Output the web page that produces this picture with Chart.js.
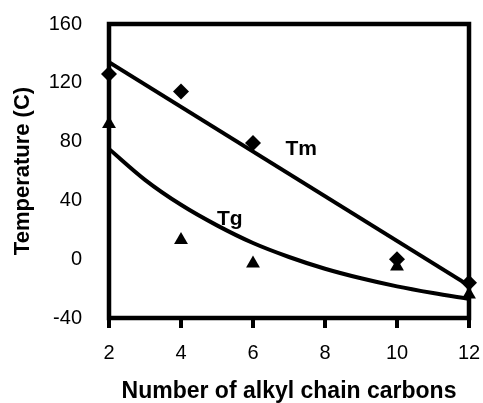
<!DOCTYPE html>
<html>
<head>
<meta charset="utf-8">
<script src="https://cdn.jsdelivr.net/npm/chart.js@4"></script>
<style>
  html, body { margin: 0; padding: 0; background: #fff; }
  #wrap { width: 483px; height: 403px; }
</style>
</head>
<body>
<div id="wrap"><canvas id="chart"></canvas></div>
<script>
// Tm / Tg vs alkyl chain length — measured points plus fitted trend curves.
const carbons = [2, 4, 6, 10, 12];
const tmValues = [126, 114, 79, 0, -16];
const tgValues = [92, 13, -3, -5, -24];

// fitted curves as drawn in the source figure
const tmFitX = [2, 12];
const tmFitY = [134, -18];
const tgFitX = [2, 3, 4, 5, 6, 7, 8, 9, 10, 11, 12];
const tgFitY = [75, 54, 37, 23, 11, 1.5, -6.5, -13, -18.5, -23, -27];

const xTicks = [2, 4, 6, 8, 10, 12];
const yTicks = [-40, 0, 40, 80, 120, 160];

const pts = (xs, ys) => xs.map((x, i) => ({ x, y: ys[i] }));
const ink = '#000';
const sans = 'Arial, "Liberation Sans", sans-serif';

// thick box round the plot area (under the markers) plus the curve labels
const framePlugin = {
  id: 'frame',
  beforeDatasetsDraw(chart) {
    const { ctx, chartArea: a, scales: { x, y } } = chart;
    ctx.save();
    ctx.strokeStyle = ink;
    ctx.lineWidth = 4.5;
    ctx.strokeRect(a.left, a.top, a.right - a.left, a.bottom - a.top);
    ctx.fillStyle = ink;
    ctx.font = 'bold 21px ' + sans;
    ctx.textBaseline = 'alphabetic';
    ctx.fillText('Tm', x.getPixelForValue(6.9), y.getPixelForValue(71));
    ctx.fillText('Tg', x.getPixelForValue(5.0), y.getPixelForValue(23.5));
    ctx.restore();
  },
  afterDraw(chart) {
    // short outward tick marks under the x axis
    const { ctx, chartArea: a, scales: { x } } = chart;
    ctx.save();
    ctx.fillStyle = ink;
    xTicks.forEach(v => {
      const px = x.getPixelForValue(v);
      ctx.fillRect(px - 2, a.bottom, 4, 10);
    });
    ctx.restore();
  },
};

new Chart(document.getElementById('chart'), {
  type: 'scatter',
  data: {
    datasets: [
      {
        label: 'Tm',
        data: pts(carbons, tmValues),
        pointStyle: 'rectRot',
        pointRadius: 8,
        backgroundColor: ink,
        borderColor: ink,
        borderWidth: 0,
        clip: false,
        order: 0,
      },
      {
        label: 'Tg',
        data: pts(carbons, tgValues),
        pointStyle: 'triangle',
        pointRadius: 8,
        backgroundColor: ink,
        borderColor: ink,
        borderWidth: 0,
        clip: false,
        order: 0,
      },
      {
        label: 'Tm fit',
        type: 'line',
        data: pts(tmFitX, tmFitY),
        borderColor: ink,
        borderWidth: 4,
        pointRadius: 0,
        fill: false,
        order: 1,
      },
      {
        label: 'Tg fit',
        type: 'line',
        data: pts(tgFitX, tgFitY),
        borderColor: ink,
        borderWidth: 4,
        pointRadius: 0,
        cubicInterpolationMode: 'monotone',
        fill: false,
        order: 1,
      },
    ],
  },
  options: {
    responsive: true,
    maintainAspectRatio: false,
    animation: false,
    layout: { padding: { top: 24, right: 14, left: 0, bottom: 0 } },
    plugins: {
      legend: { display: false },
      tooltip: { enabled: false },
    },
    scales: {
      x: {
        type: 'linear',
        min: 2,
        max: 12,
        // fixed box; drop the label overhang padding so the plot area lands where the figure has it
        afterFit: s => { s.height = 85; s.paddingLeft = 0; s.paddingRight = 0; },
        afterBuildTicks: s => { s.ticks = xTicks.map(v => ({ value: v })); },
        grid: { display: false },
        border: { display: false },
        ticks: { color: ink, padding: 15, font: { family: sans, size: 20 } },
        title: { display: true, text: 'Number of alkyl chain carbons', color: ink, padding: { top: 0, bottom: 0 }, font: { family: sans, size: 23, weight: 'bold', lineHeight: 1 } },
      },
      y: {
        min: -40,
        max: 160,
        afterFit: s => { s.width = 109; s.paddingTop = 0; s.paddingBottom = 0; },
        afterBuildTicks: s => { s.ticks = yTicks.map(v => ({ value: v })); },
        grid: { display: false },
        border: { display: false },
        ticks: { color: ink, padding: 19, font: { family: sans, size: 20 } },
        title: { display: true, text: 'Temperature (C)', color: ink, padding: { top: 10, bottom: 0 }, font: { family: sans, size: 22, weight: 'bold' } },
      },
    },
  },
  plugins: [framePlugin],
});
</script>
</body>
</html>
